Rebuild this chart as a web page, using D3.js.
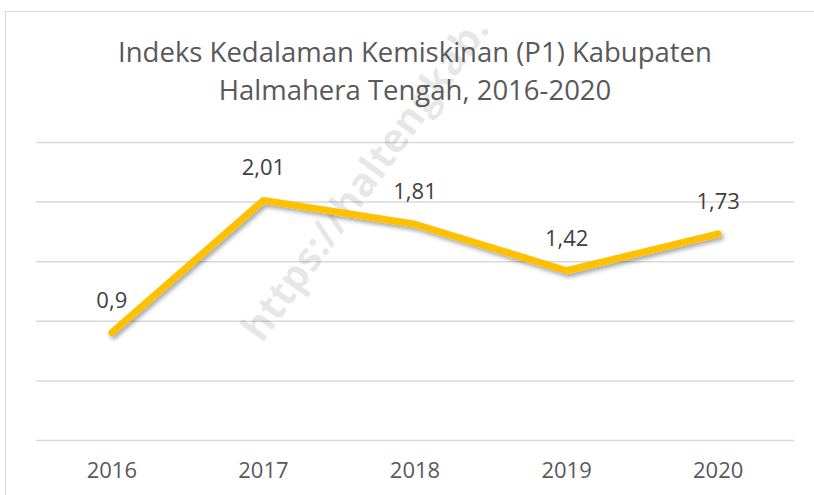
<!DOCTYPE html>
<html>
<head>
<meta charset="utf-8">
<script src="https://cdn.jsdelivr.net/npm/d3@7"></script>
<style>
  html, body { margin: 0; padding: 0; background: #fff; }
  svg { display: block; font-family: 'Open Sans', sans-serif; }
</style>
</head>
<body>
<div id="chart"></div>
<script>
// data
const years = ['2016', '2017', '2018', '2019', '2020'];
const values = [0.9, 2.01, 1.81, 1.42, 1.73];
const valueLabels = ['0,9', '2,01', '1,81', '1,42', '1,73'];
const yTicks = [0, 0.5, 1, 1.5, 2, 2.5];
const titleLines = ['Indeks Kedalaman Kemiskinan (P1) Kabupaten', 'Halmahera Tengah, 2016-2020'];

const width = 814;
const height = 495;
const margin = { top: 142, right: 20, bottom: 55, left: 36 };

const svg = d3.select('#chart')
  .append('svg')
  .attr('width', width)
  .attr('height', height);

// drop shadow for the line
const defs = svg.append('defs');
const shadow = defs.append('filter')
  .attr('id', 'shadow')
  .attr('x', '-10%').attr('y', '-10%')
  .attr('width', '120%').attr('height', '130%');
shadow.append('feDropShadow')
  .attr('dx', 2).attr('dy', 3)
  .attr('stdDeviation', 2)
  .attr('flood-color', '#000')
  .attr('flood-opacity', 0.35);

// chart frame (cropped at right and bottom)
svg.append('rect')
  .attr('x', 5.5).attr('y', 11.5)
  .attr('width', width + 20).attr('height', height + 20)
  .attr('fill', '#fff')
  .attr('stroke', '#d9d9d9')
  .attr('stroke-width', 1);

const x = d3.scaleBand()
  .domain(years)
  .range([margin.left, width - margin.right]);

const y = d3.scaleLinear()
  .domain([0, 2.5])
  .range([height - margin.bottom, margin.top]);

// gridlines
const yAxis = d3.axisLeft(y)
  .tickValues(yTicks)
  .tickSize(-(width - margin.left - margin.right))
  .tickFormat('');

svg.append('g')
  .attr('class', 'grid')
  .attr('transform', `translate(${margin.left}, 0)`)
  .call(yAxis)
  .call(g => g.select('.domain').remove())
  .call(g => g.selectAll('line').attr('stroke', '#d9d9d9').attr('stroke-width', 1.5));

// x axis labels
const xAxis = d3.axisBottom(x).tickSize(0).tickPadding(22);
svg.append('g')
  .attr('transform', `translate(0, ${y(0)})`)
  .call(xAxis)
  .call(g => g.select('.domain').remove())
  .call(g => g.selectAll('text')
    .attr('fill', '#595959')
    .style('font-family', "'Open Sans', sans-serif")
    .style('font-size', '22px'));

// watermark
svg.append('text')
  .attr('transform', 'translate(262, 344) rotate(-54)')
  .attr('fill', '#000')
  .attr('fill-opacity', 0.1)
  .style('font-size', '40px')
  .style('font-weight', 'bold')
  .text('https://haltengkab.');

// title
svg.append('text')
  .attr('text-anchor', 'middle')
  .attr('fill', '#595959')
  .style('font-size', '27.5px')
  .selectAll('tspan')
  .data(titleLines)
  .join('tspan')
  .attr('x', 415)
  .attr('y', (d, i) => 62 + i * 38)
  .text(d => d);

// line
const line = d3.line()
  .x((d, i) => x(years[i]) + x.bandwidth() / 2)
  .y(d => y(d));

svg.append('path')
  .datum(values)
  .attr('d', line)
  .attr('fill', 'none')
  .attr('stroke', '#ffc000')
  .attr('stroke-width', 7)
  .attr('stroke-linecap', 'round')
  .attr('stroke-linejoin', 'round')
  .attr('filter', 'url(#shadow)');

// data labels
svg.append('g')
  .selectAll('text')
  .data(values)
  .join('text')
  .attr('x', (d, i) => x(years[i]) + x.bandwidth() / 2)
  .attr('y', d => y(d) - 25)
  .attr('text-anchor', 'middle')
  .attr('fill', '#404040')
  .style('font-size', '22px')
  .text((d, i) => valueLabels[i]);
</script>
</body>
</html>
